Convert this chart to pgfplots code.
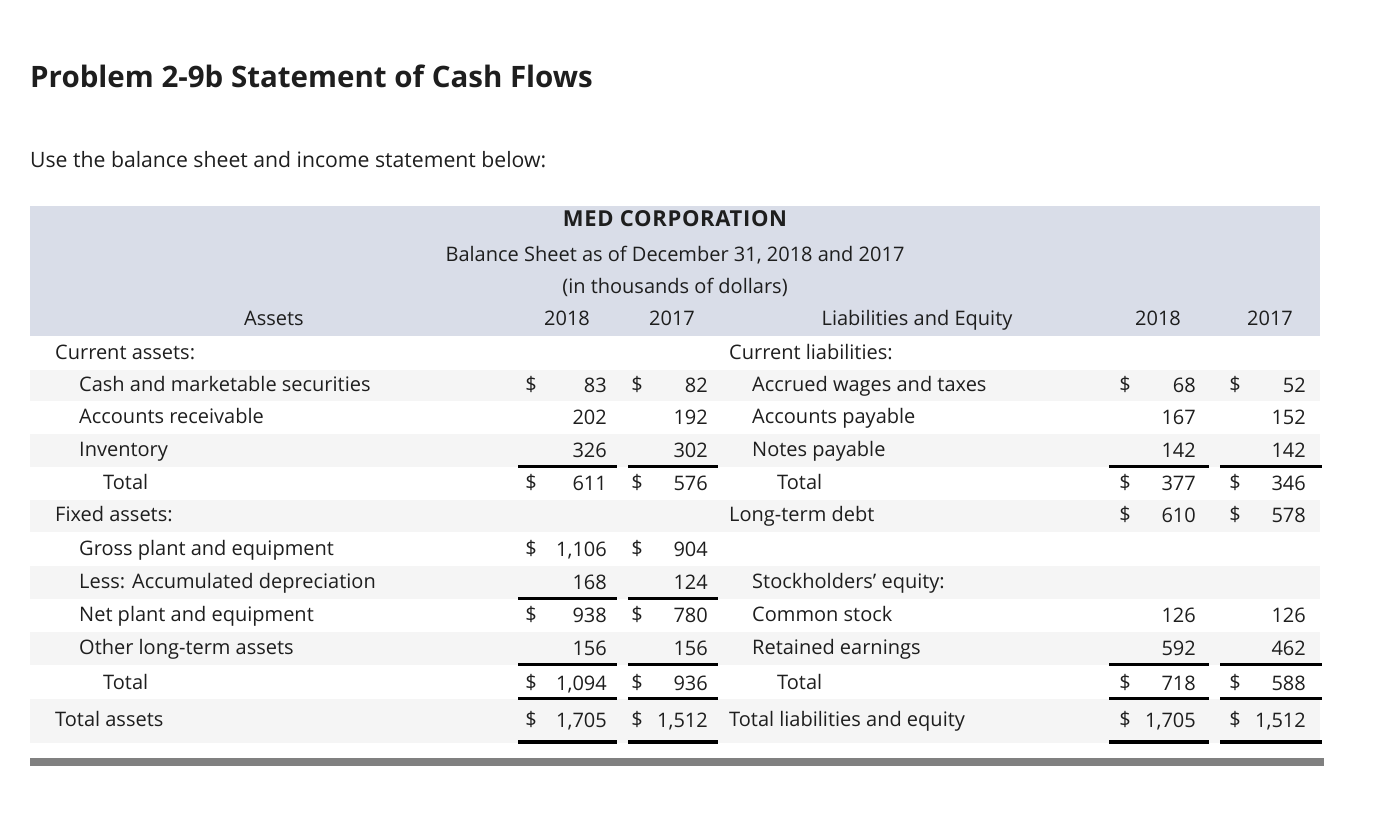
\documentclass[border=0pt]{standalone}
\usepackage{pgfplots}
\pgfplotsset{compat=1.18}
\usepackage{pgfplotstable}
\usepackage{fontspec}
\setmainfont{Open Sans}
\definecolor{hdr}{HTML}{D9DDE8}
\definecolor{rowshade}{HTML}{F5F5F5}
\definecolor{graybar}{HTML}{808080}
\definecolor{txt}{HTML}{1E1E1E}
\newcommand\body{\fontsize{20}{23}\selectfont}

% numbers: x = right edge, y = baseline (pixels from top)
\pgfplotstableread{
x y v
607 392 83
607 424 202
607 457 326
607 490 611
607 556 1,106
607 589 168
607 622 938
607 655 156
607 690 1,094
607 727 1,705
708 392 82
708 424 192
708 457 302
708 490 576
708 556 904
708 589 124
708 622 780
708 655 156
708 690 936
708 727 1,512
}\assetvals
\pgfplotstableread{
x y v
1196 392 68
1196 424 167
1196 457 142
1196 490 377
1196 522 610
1196 622 126
1196 655 592
1196 690 718
1196 727 1,705
1306 392 52
1306 424 152
1306 457 142
1306 490 346
1306 522 578
1306 622 126
1306 655 462
1306 690 588
1306 727 1,512
}\liabvals

\begin{document}
\begin{tikzpicture}
\begin{scope}[x=1pt, y=-1pt, shift={(0pt,818pt)}]
\path (0,0) rectangle (1396,818);
% backgrounds
\fill[hdr] (30,206) rectangle (1320,336);
\foreach \a/\b in {370/401,434/467,500/532,566/599,632/665,699/743}
  \fill[rowshade] (30,\a) rectangle (1320,\b);
\fill[graybar] (30,758) rectangle (1324,766);

% title
\node[anchor=base west, inner sep=0pt, text=txt, font=\fontsize{29.5}{32}\selectfont\bfseries] at (30,88) {Problem 2-9b Statement of Cash Flows};
\node[anchor=base west, inner sep=0pt, text=txt, font=\fontsize{21.2}{24}\selectfont] at (30,168) {Use the balance sheet and income statement below:};

% header
\node[anchor=base, inner sep=0pt, text=txt, font=\fontsize{22}{24}\selectfont\bfseries\addfontfeatures{LetterSpace=3}] at (675,227) {MED CORPORATION};
\node[anchor=base, inner sep=0pt, text=txt, font=\body] at (675,262) {Balance Sheet as of December 31, 2018 and 2017};
\node[anchor=base, inner sep=0pt, text=txt, font=\body] at (675,294) {(in thousands of dollars)};
\foreach \x/\t in {274/Assets,567/2018,672/2017,917/Liabilities and Equity,1158/2018,1270/2017}
  \node[anchor=base, inner sep=0pt, text=txt, font=\body] at (\x,326) {\t};

% left labels
\foreach \x/\y/\t in {55/360/Current assets:,79/392/Cash and marketable securities,79/424/Accounts receivable,79/457/Inventory,103/490/Total,55/522/Fixed assets:,79/556/Gross plant and equipment,79/589/Less: Accumulated depreciation,79/622/Net plant and equipment,79/655/Other long-term assets,103/690/Total,55/727/Total assets}
  \node[anchor=base west, inner sep=0pt, text=txt, font=\body] at (\x,\y) {\t};
% right labels
\foreach \x/\y/\t in {729/360/Current liabilities:,752/392/Accrued wages and taxes,752/424/Accounts payable,752/457/Notes payable,777/490/Total,729/522/Long-term debt,752/589/Stockholders’ equity:,752/622/Common stock,752/655/Retained earnings,777/690/Total,729/727/Total liabilities and equity}
  \node[anchor=base west, inner sep=0pt, text=txt, font=\body] at (\x,\y) {\t};

% dollar signs
\foreach \y in {392,490,556,622,690,727}{
  \node[anchor=base, inner sep=0pt, text=txt, font=\body] at (531,\y) {\$};
  \node[anchor=base, inner sep=0pt, text=txt, font=\body] at (637,\y) {\$};}
\foreach \y in {392,490,522,690,727}{
  \node[anchor=base, inner sep=0pt, text=txt, font=\body] at (1125,\y) {\$};
  \node[anchor=base, inner sep=0pt, text=txt, font=\body] at (1235,\y) {\$};}

% rules
\foreach \y in {467,599,665,699}{
  \fill[black] (518,\y-1.5) rectangle (617,\y+1.5);
  \fill[black] (628,\y-1.5) rectangle (718,\y+1.5);}
\fill[black] (518,740) rectangle (617,744);
\fill[black] (628,740) rectangle (718,744);
\foreach \y in {467,665,699}{
  \fill[black] (1109,\y-1.5) rectangle (1209,\y+1.5);
  \fill[black] (1220,\y-1.5) rectangle (1322,\y+1.5);}
\fill[black] (1109,740) rectangle (1209,744);
\fill[black] (1220,740) rectangle (1322,744);
\end{scope}

\begin{axis}[
  at={(0pt,0pt)}, anchor=south west,
  scale only axis, width=1396pt, height=818pt,
  xmin=0, xmax=1396, ymin=0, ymax=818, y dir=reverse,
  hide axis, clip=false,
  every node near coord/.style={anchor=base east, inner sep=0pt, font=\body, text=txt},
]
\addplot[draw=none, mark=none, point meta=explicit symbolic, nodes near coords] table[x=x, y=y, meta=v] {\assetvals};
\addplot[draw=none, mark=none, point meta=explicit symbolic, nodes near coords] table[x=x, y=y, meta=v] {\liabvals};
\end{axis}
\end{tikzpicture}
\end{document}
